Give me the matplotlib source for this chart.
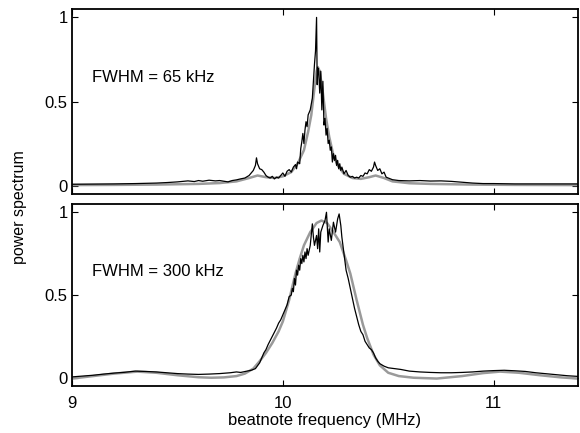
import matplotlib
matplotlib.use("Agg")
import matplotlib.pyplot as plt

plt.rcParams['font.family'] = ['Liberation Sans', 'DejaVu Sans']

# ---- data (MHz, normalised power) ----
top_f = [9.00, 9.10, 9.20, 9.30, 9.40, 9.45, 9.50, 9.55, 9.58, 9.60, 9.62, 9.65, 9.68, 9.70,
         9.72, 9.74, 9.76, 9.78, 9.80, 9.82, 9.84, 9.86, 9.87, 9.875, 9.88, 9.89, 9.90, 9.91,
         9.92, 9.93, 9.94, 9.95, 9.96, 9.97, 9.98, 9.99, 10.00, 10.01, 10.02, 10.03, 10.04,
         10.05, 10.06, 10.065, 10.07, 10.08, 10.085, 10.09, 10.095, 10.10, 10.105, 10.11,
         10.115, 10.12, 10.13, 10.14, 10.145, 10.15, 10.155, 10.16, 10.163, 10.166, 10.17,
         10.175, 10.18, 10.185, 10.19, 10.195, 10.20, 10.205, 10.21, 10.215, 10.22, 10.225,
         10.23, 10.235, 10.24, 10.245, 10.25, 10.255, 10.26, 10.265, 10.27, 10.275, 10.28,
         10.29, 10.30, 10.31, 10.32, 10.33, 10.34, 10.35, 10.36, 10.37, 10.38, 10.39, 10.40,
         10.41, 10.42, 10.43, 10.435, 10.44, 10.45, 10.46, 10.47, 10.48, 10.49, 10.50, 10.52,
         10.55, 10.60, 10.65, 10.70, 10.75, 10.80, 10.85, 10.90, 10.95, 11.00, 11.10, 11.20,
         11.30, 11.40]
top_p = [0.008, 0.009, 0.010, 0.012, 0.015, 0.018, 0.022, 0.028, 0.024, 0.030, 0.026, 0.032,
         0.028, 0.030, 0.026, 0.022, 0.030, 0.034, 0.040, 0.045, 0.060, 0.090, 0.120, 0.165,
         0.130, 0.100, 0.095, 0.080, 0.060, 0.050, 0.045, 0.055, 0.040, 0.050, 0.045, 0.060,
         0.075, 0.055, 0.085, 0.095, 0.080, 0.110, 0.125, 0.100, 0.140, 0.130, 0.220, 0.260,
         0.310, 0.250, 0.330, 0.380, 0.350, 0.420, 0.450, 0.520, 0.620, 0.720, 0.800, 1.000,
         0.600, 0.700, 0.680, 0.550, 0.680, 0.450, 0.620, 0.360, 0.400, 0.300, 0.340, 0.250,
         0.270, 0.210, 0.230, 0.140, 0.190, 0.150, 0.180, 0.120, 0.150, 0.100, 0.130, 0.090,
         0.110, 0.070, 0.090, 0.060, 0.050, 0.055, 0.045, 0.050, 0.045, 0.060, 0.055, 0.075,
         0.070, 0.095, 0.085, 0.110, 0.140, 0.120, 0.090, 0.100, 0.070, 0.080, 0.050, 0.045,
         0.035, 0.030, 0.028, 0.030, 0.027, 0.028, 0.025, 0.020, 0.015, 0.012, 0.012, 0.010,
         0.010, 0.010, 0.010]

top_fit_f = [9.00, 9.20, 9.40, 9.60, 9.70, 9.78, 9.84, 9.88, 9.92, 9.96, 10.00, 10.04, 10.07,
             10.10, 10.12, 10.135, 10.15, 10.16, 10.166, 10.175, 10.19, 10.205, 10.22, 10.24,
             10.26, 10.29, 10.33, 10.37, 10.41, 10.44, 10.48, 10.52, 10.60, 10.70, 10.90,
             11.10, 11.40]
top_fit_p = [0.003, 0.004, 0.006, 0.010, 0.015, 0.025, 0.045, 0.060, 0.050, 0.045, 0.055,
             0.080, 0.130, 0.210, 0.320, 0.420, 0.580, 0.680, 0.705, 0.680, 0.550, 0.400,
             0.290, 0.180, 0.120, 0.070, 0.045, 0.040, 0.050, 0.060, 0.045, 0.025, 0.014,
             0.010, 0.006, 0.004, 0.003]

bot_f = [9.00, 9.05, 9.10, 9.15, 9.20, 9.25, 9.30, 9.35, 9.40, 9.45, 9.50, 9.55, 9.60, 9.65,
         9.70, 9.75, 9.78, 9.80, 9.83, 9.85, 9.87, 9.89, 9.90, 9.91, 9.92, 9.93, 9.94, 9.95,
         9.96, 9.97, 9.98, 9.99, 10.00, 10.01, 10.02, 10.03, 10.04, 10.045, 10.05, 10.055,
         10.06, 10.065, 10.07, 10.075, 10.08, 10.085, 10.09, 10.095, 10.10, 10.105, 10.11,
         10.115, 10.12, 10.13, 10.14, 10.145, 10.15, 10.16, 10.165, 10.17, 10.175, 10.18,
         10.19, 10.20, 10.207, 10.215, 10.22, 10.23, 10.24, 10.25, 10.26, 10.267, 10.275,
         10.28, 10.29, 10.295, 10.30, 10.31, 10.32, 10.33, 10.34, 10.35, 10.36, 10.37, 10.38,
         10.39, 10.40, 10.41, 10.42, 10.43, 10.44, 10.45, 10.46, 10.48, 10.50, 10.53, 10.56,
         10.60, 10.65, 10.70, 10.75, 10.80, 10.85, 10.90, 10.95, 11.00, 11.05, 11.10, 11.15,
         11.20, 11.25, 11.30, 11.35, 11.40]
bot_p = [0.005, 0.010, 0.015, 0.022, 0.028, 0.033, 0.040, 0.038, 0.035, 0.030, 0.025, 0.022,
         0.020, 0.022, 0.025, 0.030, 0.035, 0.032, 0.040, 0.045, 0.055, 0.090, 0.120, 0.150,
         0.170, 0.200, 0.225, 0.250, 0.275, 0.300, 0.330, 0.350, 0.380, 0.410, 0.440, 0.490,
         0.500, 0.540, 0.520, 0.600, 0.560, 0.650, 0.620, 0.680, 0.650, 0.720, 0.690, 0.740,
         0.700, 0.760, 0.720, 0.780, 0.740, 0.800, 0.930, 0.850, 0.800, 0.860, 0.780, 0.900,
         0.760, 0.880, 0.920, 0.950, 1.000, 0.820, 0.900, 0.830, 0.940, 0.880, 0.960, 0.990,
         0.920, 0.850, 0.750, 0.700, 0.650, 0.600, 0.540, 0.480, 0.420, 0.370, 0.320, 0.280,
         0.260, 0.220, 0.200, 0.180, 0.170, 0.150, 0.120, 0.100, 0.085, 0.070, 0.060, 0.055,
         0.050, 0.040, 0.035, 0.032, 0.030, 0.030, 0.032, 0.035, 0.040, 0.043, 0.045, 0.042,
         0.038, 0.030, 0.024, 0.018, 0.012, 0.008]

bot_fit_f = [9.00, 9.10, 9.20, 9.31, 9.40, 9.50, 9.60, 9.66, 9.72, 9.78, 9.82, 9.86, 9.89,
             9.92, 9.95, 9.98, 10.00, 10.03, 10.06, 10.08, 10.10, 10.13, 10.16, 10.183, 10.21,
             10.24, 10.27, 10.30, 10.32, 10.35, 10.38, 10.40, 10.43, 10.46, 10.50, 10.55,
             10.62, 10.73, 10.85, 10.95, 11.03, 11.12, 11.22, 11.32, 11.40]
bot_fit_p = [-0.005, 0.010, 0.025, 0.037, 0.030, 0.015, 0.003, 0.000, 0.002, 0.010, 0.025,
             0.055, 0.100, 0.150, 0.210, 0.280, 0.340, 0.470, 0.630, 0.720, 0.800, 0.880,
             0.935, 0.950, 0.935, 0.880, 0.820, 0.710, 0.630, 0.470, 0.320, 0.240, 0.140,
             0.075, 0.030, 0.010, 0.000, -0.005, 0.010, 0.028, 0.037, 0.030, 0.015, 0.002,
             -0.005]

labels = ["FWHM = 65 kHz", "FWHM = 300 kHz"]
xticks = [9, 10, 11]
yticks = [0, 0.5, 1]
yticklabels = ["0", "0.5", "1"]

FS = 12
fig = plt.figure(figsize=(5.8, 4.33), dpi=100)
L, R = 72 / 580, 578 / 580
ax1 = fig.add_axes([L, (433 - 194) / 433, R - L, 185 / 433])
ax2 = fig.add_axes([L, (433 - 386) / 433, R - L, 182 / 433])

panels = [(ax1, top_f, top_p, top_fit_f, top_fit_p, labels[0]),
          (ax2, bot_f, bot_p, bot_fit_f, bot_fit_p, labels[1])]
for ax, f, p, ff, fp, lab in panels:
    ax.plot(ff, fp, color='#9a9a9a', lw=1.8, solid_joinstyle='round', zorder=2)
    ax.plot(f, p, color='black', lw=0.9, zorder=3)
    ax.set_xlim(9, 11.4)
    ax.set_ylim(-0.05, 1.05)
    ax.set_xticks(xticks)
    ax.set_yticks(yticks)
    ax.set_yticklabels(yticklabels)
    ax.tick_params(direction='in', top=True, right=True, length=4, width=0.8,
                   labelsize=FS, pad=3)
    ax.tick_params(axis='x', pad=7)
    for s in ax.spines.values():
        s.set_linewidth(1.3)
    ax.text(0.04, 0.63, lab, transform=ax.transAxes, fontsize=FS, va='center', ha='left')

ax1.set_xticklabels([])
fig.text(0.034, 0.522, "power spectrum", rotation=90, va='center', ha='center', fontsize=11.5)
fig.text(0.559, 0.03, "beatnote frequency (MHz)", va='center', ha='center', fontsize=FS)

fig.savefig("out.png", dpi=100)
